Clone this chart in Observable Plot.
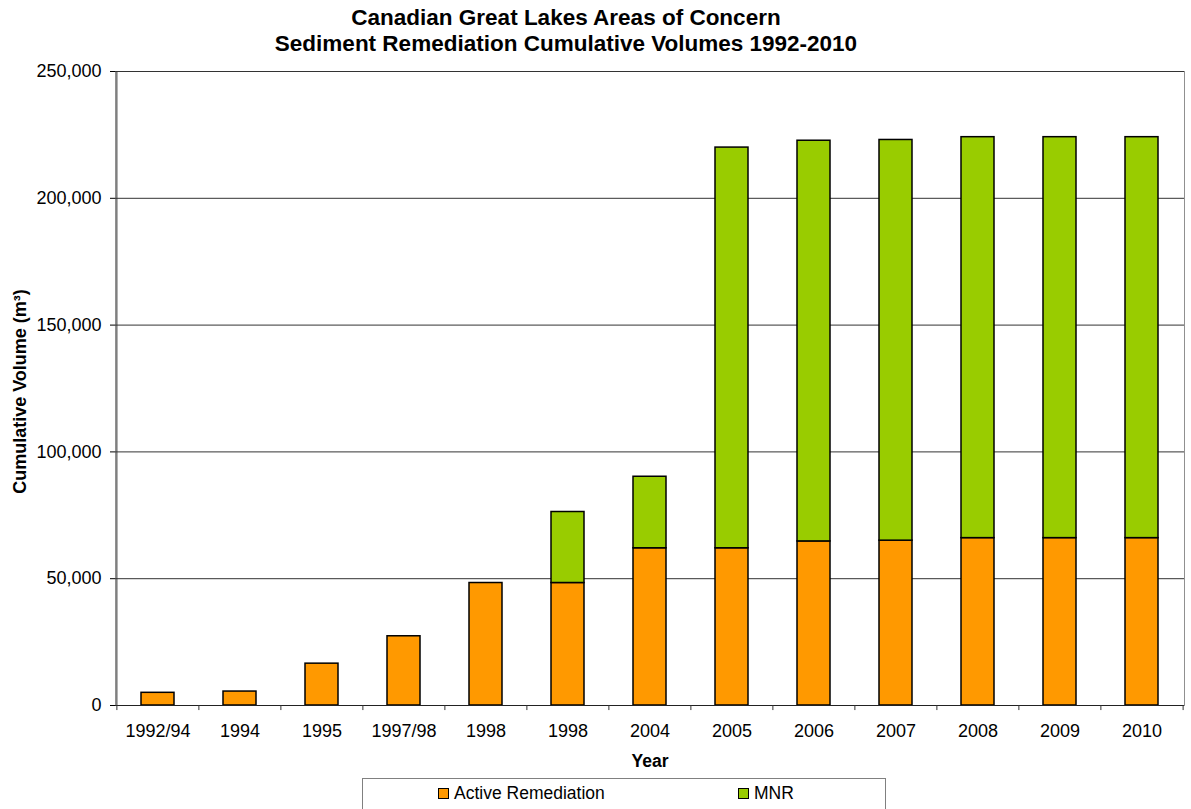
<!DOCTYPE html>
<html>
<head>
<meta charset="utf-8">
<script src="https://cdn.jsdelivr.net/npm/d3@7"></script>
<script src="https://cdn.jsdelivr.net/npm/@observablehq/plot@0.6"></script>
<style>
  html, body { margin: 0; padding: 0; background: #fff; }
  #wrap { position: relative; width: 1191px; height: 809px; overflow: hidden; font-family: "Liberation Sans", Arial, sans-serif; color: #000; }
  #title { position: absolute; left: 0; top: 5px; width: 1132px; text-align: center; font-weight: bold; font-size: 22.5px; line-height: 26px; }
  #chart { position: absolute; left: 0; top: 60px; }
  #legend { position: absolute; left: 362px; top: 778px; width: 524px; height: 40px; border: 1px solid #808080; box-sizing: border-box; font-size: 17.5px; background: #fff; }
  .item { position: absolute; top: 4px; display: flex; align-items: center; white-space: nowrap; }
  .sw { width: 9px; height: 9px; border: 1px solid #000; margin-right: 5px; }
</style>
</head>
<body>
<div id="wrap">
  <div id="title">Canadian Great Lakes Areas of Concern<br>Sediment Remediation Cumulative Volumes 1992-2010</div>
  <div id="chart"></div>
  <div id="legend"></div>
</div>
<script>
const categories = ["1992/94","1994","1995","1997/98","1998","1998","2004","2005","2006","2007","2008","2009","2010"];
const activeRemediation = [5000,5500,16500,27300,48300,48300,62000,62000,64700,65000,66000,66000,66000];
const mnr = [0,0,0,0,0,28000,28200,158000,158000,158000,158100,158100,158100];
const seriesNames = ["Active Remediation","MNR"];
const seriesColors = ["#FF9900","#99CC00"];
const yTicks = [0,50000,100000,150000,200000,250000];

const idx = categories.map((_, i) => i);
const rows = [];
idx.forEach(i => rows.push({i, series: seriesNames[0], value: activeRemediation[i]}));
idx.forEach(i => { if (mnr[i] > 0) rows.push({i, series: seriesNames[1], value: mnr[i]}); });

const W = 1191, H = 718, mL = 115, mR = 7, mT = 11, mB = 73;
const step = (W - mL - mR) / categories.length;

const chart = Plot.plot({
  width: W, height: H,
  marginLeft: mL, marginRight: mR, marginTop: mT, marginBottom: mB,
  style: {fontFamily: "'Liberation Sans', Arial, sans-serif", fontSize: "18px", color: "#000", background: "#fff"},
  x: {domain: idx, paddingInner: 0.6, paddingOuter: 0.3, label: null},
  y: {domain: [0, 250000], label: null},
  color: {domain: seriesNames, range: seriesColors},
  marks: [
    Plot.frame({stroke: "#909090"}),
    Plot.gridY({ticks: yTicks.slice(1), stroke: "#333", strokeOpacity: 1}),
    Plot.barY(rows, {x: "i", y: "value", fill: "series", stroke: "#000", strokeWidth: 1.5}),
    Plot.ruleY([0], {stroke: "#222"}),
    Plot.ruleX([0], {x: d => d, dx: -step / 2, y1: 0, y2: 250000, stroke: "#333"}),
    Plot.ruleX(idx, {x: d => d, dx: -step / 2, y1: 0, y2: -2000, stroke: "#333"}),
    Plot.ruleX([categories.length - 1], {x: d => d, dx: step / 2, y1: 0, y2: -2000, stroke: "#333"}),
    Plot.axisY({ticks: yTicks, tickFormat: d3.format(","), tickSize: 5, tickPadding: 9, fontSize: 18, label: null}),
    Plot.axisX({tickSize: 0, tickPadding: 19, tickFormat: i => categories[i], fontSize: 18, label: null}),
    Plot.text(["Year"], {frameAnchor: "bottom", dy: 61, text: d => d, fontWeight: "bold", fontSize: 17.5}),
    Plot.text(["Cumulative Volume (m³)"], {frameAnchor: "left", dx: -95, dy: 3, rotate: -90, textAnchor: "middle", text: d => d, fontWeight: "bold", fontSize: 18})
  ]
});
document.getElementById("chart").appendChild(chart);

const legend = document.getElementById("legend");
const lefts = [75, 375];
seriesNames.forEach((name, k) => {
  const it = document.createElement("div");
  it.className = "item";
  it.style.left = lefts[k] + "px";
  const sw = document.createElement("div");
  sw.className = "sw";
  sw.style.background = seriesColors[k];
  const tx = document.createElement("span");
  tx.textContent = name;
  it.appendChild(sw); it.appendChild(tx);
  legend.appendChild(it);
});
</script>
</body>
</html>
